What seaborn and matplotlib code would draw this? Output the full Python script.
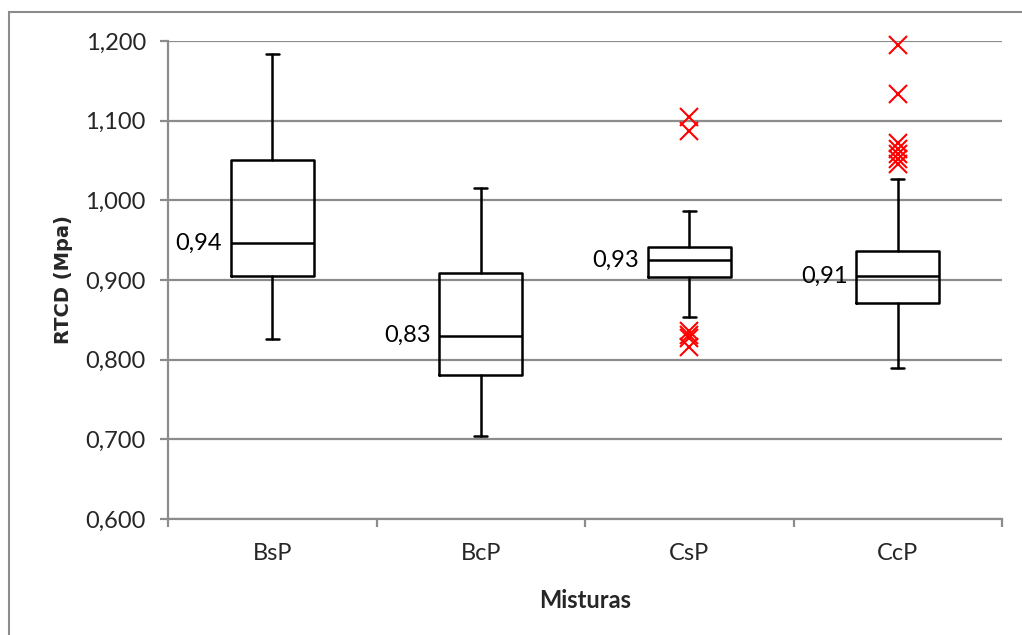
import matplotlib
matplotlib.use("Agg")
import matplotlib.pyplot as plt
import matplotlib.patches as mpatches
from matplotlib.ticker import FuncFormatter, FixedLocator
import seaborn as sns

# ---- data ----
categories = ["BsP", "BcP", "CsP", "CcP"]
whisker_low = [0.826, 0.704, 0.854, 0.790]
q1 = [0.905, 0.781, 0.904, 0.871]
median = [0.946, 0.830, 0.925, 0.905]
q3 = [1.051, 0.909, 0.942, 0.936]
whisker_high = [1.184, 1.015, 0.986, 1.027]
outliers = [
    [],
    [],
    [1.104, 1.087, 0.836, 0.831, 0.827, 0.816],
    [1.195, 1.134, 1.072, 1.065, 1.058, 1.052, 1.046],
]
median_labels = ["0,94", "0,83", "0,93", "0,91"]
y_ticks = [0.6, 0.7, 0.8, 0.9, 1.0, 1.1, 1.2]

sns.set_style("white")
plt.rcParams["font.family"] = ["Lato", "DejaVu Sans"]

fig = plt.figure(figsize=(10.22, 6.35), dpi=100)
ax = fig.add_axes([168 / 1022, 1 - 519 / 635, (1002 - 168) / 1022, (519 - 41) / 635])

grid_c = "#8c8c8c"
stats = []
for i, c in enumerate(categories):
    stats.append(dict(label=c, whislo=whisker_low[i], q1=q1[i], med=median[i],
                      q3=q3[i], whishi=whisker_high[i], fliers=outliers[i]))

positions = list(range(len(categories)))
parts = ax.bxp(stats, positions=positions, widths=0.4, showfliers=True,
               boxprops=dict(color="black", linewidth=1.8),
               medianprops=dict(color="black", linewidth=1.8),
               whiskerprops=dict(color="black", linewidth=1.8),
               capprops=dict(color="black", linewidth=1.8),
               capwidths=0.06,
               flierprops=dict(marker="x", markeredgecolor="#ff0000", markersize=13,
                               markeredgewidth=1.5, linestyle="none"),
               zorder=3)
for fl in parts["fliers"]:
    fl.set_clip_on(False)

for i, lab in enumerate(median_labels):
    ax.annotate(lab, xy=(positions[i] - 0.2, median[i]), xytext=(-6, 0),
                textcoords="offset points", ha="right", va="center",
                fontsize=17, color="black")

ax.set_xlim(-0.5, len(categories) - 0.5)
ax.set_ylim(0.6, 1.2)
ax.yaxis.set_major_locator(FixedLocator(y_ticks))
ax.yaxis.set_major_formatter(FuncFormatter(lambda v, p: f"{v:.3f}".replace(".", ",")))
ax.set_xticks(positions)
ax.set_xticklabels(categories)
ax.set_xticks([p - 0.5 for p in positions] + [positions[-1] + 0.5], minor=True)

ax.grid(axis="y", color=grid_c, linewidth=1.6, zorder=0)
ax.set_axisbelow(True)
for s in ["top", "right"]:
    ax.spines[s].set_visible(False)
for s in ["left", "bottom"]:
    ax.spines[s].set_color(grid_c)
    ax.spines[s].set_linewidth(1.6)

ax.tick_params(axis="y", which="major", length=6, width=1.6, color=grid_c,
               labelsize=17, pad=10, left=True)
ax.tick_params(axis="x", which="major", length=0, labelsize=17, pad=17)
ax.tick_params(axis="x", which="minor", length=6, width=1.6, color=grid_c,
               bottom=True, direction="out")

ax.set_xlabel("Misturas", fontsize=17, fontweight="bold", labelpad=18)
ax.set_ylabel("RTCD (Mpa)", fontsize=14, fontweight="bold",
              family=["DejaVu Sans"], labelpad=9)

border = mpatches.Rectangle((8.5 / 1022, -0.2), 1.5, 1.2 - 12 / 635,
                            transform=fig.transFigure, fill=False,
                            edgecolor=grid_c, linewidth=1.5)
fig.patches.append(border)

fig.savefig("out.png", dpi=100)
